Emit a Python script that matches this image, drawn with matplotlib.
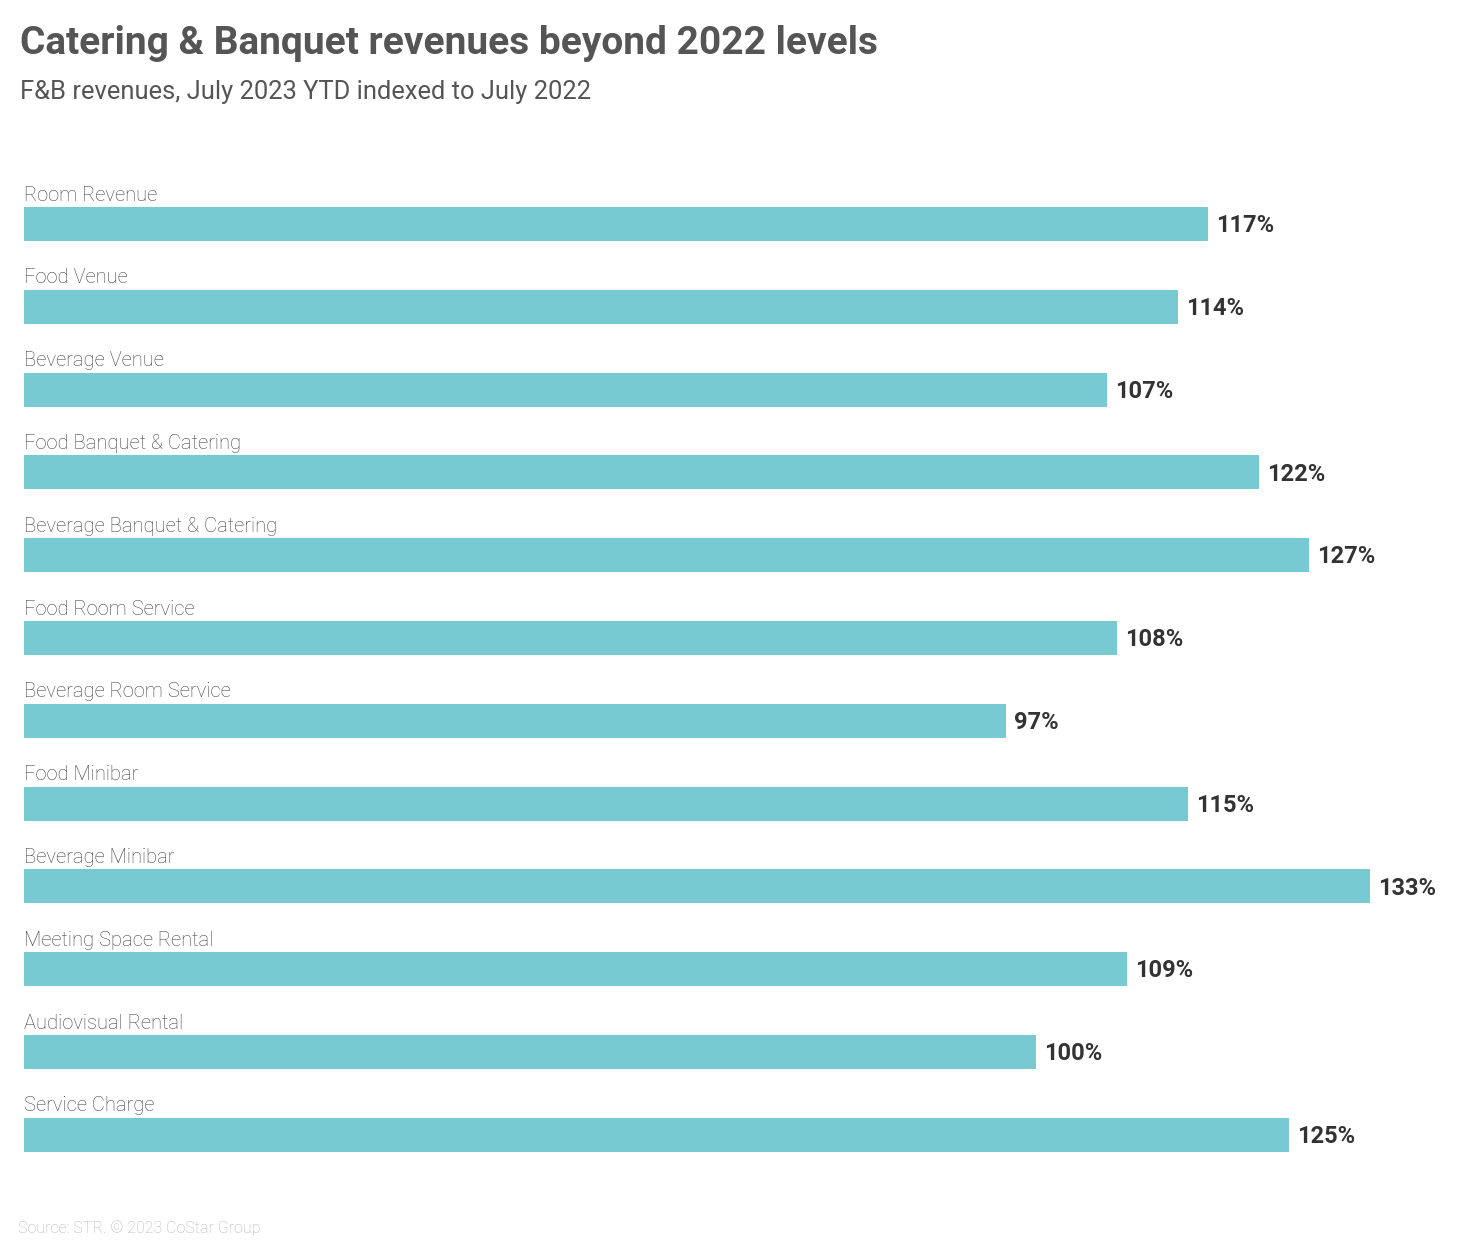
import matplotlib.pyplot as plt

# DATA
categories = ['Room Revenue', 'Food Venue', 'Beverage Venue', 'Food Banquet & Catering',
              'Beverage Banquet & Catering', 'Food Room Service', 'Beverage Room Service',
              'Food Minibar', 'Beverage Minibar', 'Meeting Space Rental',
              'Audiovisual Rental', 'Service Charge']
values = [117, 114, 107, 122, 127, 108, 97, 115, 133, 109, 100, 125]

BAR_COLOR = '#77CAD1'

plt.rcParams['font.family'] = ['Roboto', 'DejaVu Sans']

fig = plt.figure(figsize=(14.64, 12.48), dpi=100)
ax = fig.add_axes([24 / 1464, 0.0509, 1417 / 1464, 0.8293])

positions = list(range(len(categories)))
ax.barh(positions, values, height=0.41, color=BAR_COLOR)

for i, (cat, val) in enumerate(zip(categories, values)):
    ax.text(0, i - 0.35, cat, ha='left', va='center', fontsize=14.5,
            fontweight='light', color='#444444')
    ax.text(val + 0.8, i + 0.02, f'{val}%', ha='left', va='center', fontsize=17,
            fontweight='bold', color='#333333')

ax.set_xlim(0, 140)
ax.set_ylim(11.6, -0.9)
ax.axis('off')

# Titles and source
fig.text(20 / 1464, 1 - 44 / 1248, 'Catering & Banquet revenues beyond 2022 levels',
         ha='left', va='center', fontsize=28, fontweight='bold', color='#555555')
fig.text(20 / 1464, 1 - 92 / 1248, 'F&B revenues, July 2023 YTD indexed to July 2022',
         ha='left', va='center', fontsize=18.4, color='#555555')
fig.text(18 / 1464, 1 - 1228 / 1248, 'Source: STR. \u00a9 2023 CoStar Group',
         ha='left', va='center', fontsize=11.5, fontweight='light', color='#B5B5B5')

fig.savefig('out.png', dpi=100)
